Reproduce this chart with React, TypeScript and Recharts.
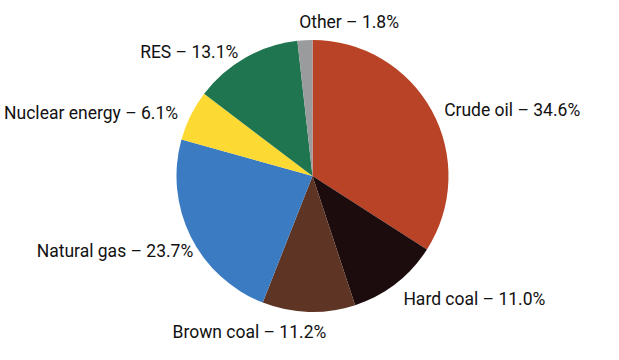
import { PieChart, Pie, Cell } from "recharts";

const sources = [
  "Crude oil",
  "Hard coal",
  "Brown coal",
  "Natural gas",
  "Nuclear energy",
  "RES",
  "Other",
];
const shares = [34.6, 11.0, 11.2, 23.7, 6.1, 13.1, 1.8];
const colors = [
  "#b84326",
  "#1c0c0e",
  "#5e3425",
  "#3b7bc1",
  "#fdd934",
  "#1f7550",
  "#9a9b9d",
];

const data = sources.map((name, i) => ({ name, value: shares[i] }));

// hand tweaks so labels sit where the original put them
const labelNudge: Record<string, { dx: number; dy: number; anchor?: string }> = {
  "Crude oil": { dx: 0, dy: 6 },
  "Hard coal": { dx: -1, dy: 4 },
  "Brown coal": { dx: 18, dy: 6, anchor: "end" },
  "Natural gas": { dx: 15, dy: 8 },
  "Nuclear energy": { dx: 0, dy: 4 },
  RES: { dx: 0, dy: 6 },
  Other: { dx: -5, dy: -4, anchor: "start" },
};

const RADIAN = Math.PI / 180;

const renderLabel = (props: any) => {
  const { cx, cy, midAngle, outerRadius, name, value } = props;
  const r = outerRadius + 14;
  const x = cx + r * Math.cos(-midAngle * RADIAN);
  const y = cy + r * Math.sin(-midAngle * RADIAN);
  const nudge = labelNudge[name] || { dx: 0, dy: 0 };
  const anchor = nudge.anchor || (x >= cx ? "start" : "end");
  return (
    <text
      x={x + nudge.dx}
      y={y + nudge.dy}
      textAnchor={anchor}
      dominantBaseline="central"
      fill="#111"
      fontSize={17.5}
      fontFamily="Roboto, sans-serif"
    >
      {`${name} – ${value.toFixed(1)}%`}
    </text>
  );
};

export default function App() {
  return (
    <div style={{ position: "absolute", left: 0, top: 0, background: "#fff" }}>
      <PieChart
        width={619}
        height={360}
        margin={{ top: 0, right: 0, bottom: 0, left: 0 }}
      >
        <Pie
          data={data}
          dataKey="value"
          nameKey="name"
          cx={312.5}
          cy={176}
          outerRadius={136}
          startAngle={90}
          endAngle={-270}
          stroke="none"
          label={renderLabel}
          labelLine={false}
          isAnimationActive={false}
        >
          {data.map((d, i) => (
            <Cell key={d.name} fill={colors[i]} />
          ))}
        </Pie>
      </PieChart>
    </div>
  );
}
